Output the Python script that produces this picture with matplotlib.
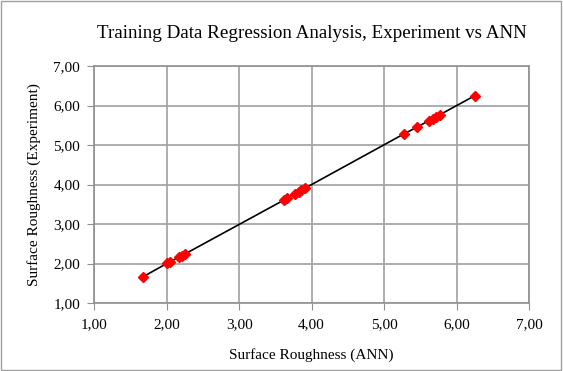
import matplotlib
matplotlib.use("Agg")
import matplotlib.pyplot as plt
from matplotlib.patches import Rectangle

# ANN predicted vs experimental surface roughness (training data)
ann = [1.68, 2.01, 2.05, 2.17, 2.21, 2.25, 3.62, 3.66, 3.77, 3.82, 3.86, 3.91,
       5.28, 5.45, 5.62, 5.67, 5.71, 5.77, 6.25]
experiment = [1.67, 2.01, 2.04, 2.17, 2.20, 2.24, 3.61, 3.66, 3.77, 3.82, 3.87, 3.91,
              5.29, 5.45, 5.62, 5.67, 5.72, 5.77, 6.25]
ticks = [1, 2, 3, 4, 5, 6, 7]
tick_labels = ["1,00", "2,00", "3,00", "4,00", "5,00", "6,00", "7,00"]

plt.rcParams['font.family'] = ['Liberation Serif', 'DejaVu Serif']

fig = plt.figure(figsize=(5.63, 3.71), dpi=100)
ax = fig.add_axes([0.167, 0.183, 0.773, 0.639])

ax.plot(ann, experiment, color='black', lw=1.2, zorder=2)
ax.plot(ann, experiment, ls='none', marker='D', color='red', markersize=4.8, zorder=3)

ax.set_xlim(1, 7)
ax.set_ylim(1, 7)
ax.set_xticks(ticks)
ax.set_xticklabels(tick_labels, fontsize=11)
ax.set_yticks(ticks)
ax.set_yticklabels(tick_labels, fontsize=11)
ax.grid(True, color='#a0a0a0', lw=1.2)
ax.set_axisbelow(True)
for s in ax.spines.values():
    s.set_color('#909090')
    s.set_linewidth(1.2)
ax.tick_params(axis='x', length=5, color='#909090', pad=6)
ax.tick_params(axis='y', length=5, color='#909090', pad=5)

ax.set_title('Training Data Regression Analysis, Experiment vs ANN', fontsize=13.7, pad=20)
ax.set_xlabel('Surface Roughness (ANN)', fontsize=11, labelpad=12)
ax.set_ylabel('Surface Roughness (Experiment)', fontsize=11, labelpad=9)

# chart border
fig.patches.append(Rectangle((0.002, 0.003), 0.995, 0.993, transform=fig.transFigure,
                             fill=False, edgecolor='#a0a0a0', lw=1))

fig.savefig('out.png', dpi=100)
